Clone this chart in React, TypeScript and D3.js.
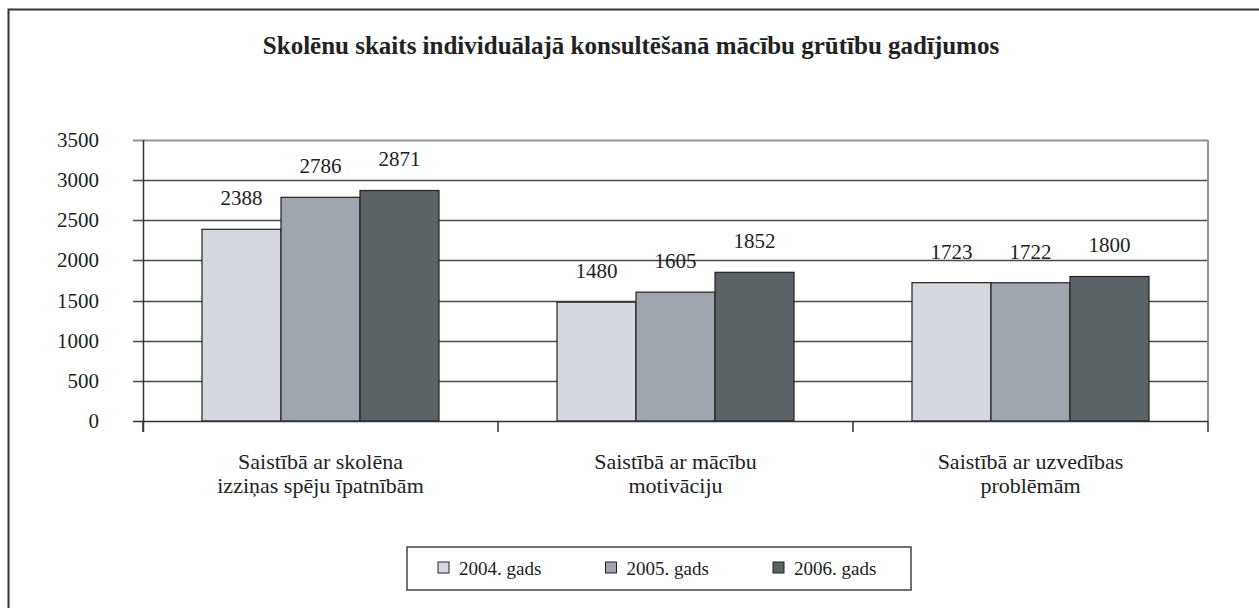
import { useEffect, useRef } from "react";
import * as d3 from "d3";

const title = "Skolēnu skaits individuālajā konsultēšanā mācību grūtību gadījumos";
const categories = [
  ["Saistībā ar skolēna", "izziņas spēju īpatnībām"],
  ["Saistībā ar mācību", "motivāciju"],
  ["Saistībā ar uzvedības", "problēmām"],
];
const seriesNames = ["2004. gads", "2005. gads", "2006. gads"];
const values2004 = [2388, 1480, 1723];
const values2005 = [2786, 1605, 1722];
const values2006 = [2871, 1852, 1800];
const yTicks = [0, 500, 1000, 1500, 2000, 2500, 3000, 3500];
const colors = ["#d5d8df", "#a0a6ad", "#5c6366"];

export default function App() {
  const svgRef = useRef<SVGSVGElement | null>(null);

  useEffect(() => {
    const W = 1259, H = 608;
    const svg = d3.select(svgRef.current);
    svg.selectAll("*").remove();
    svg.attr("width", W).attr("height", H);

    const font = "'Liberation Serif', 'Times New Roman', serif";
    const margin = { top: 140, left: 143, right: 51, bottom: 187 };
    const width = W - margin.left - margin.right;
    const height = H - margin.top - margin.bottom;

    // outer frame (left and top edges are visible)
    svg.append("path")
      .attr("d", `M8.5,${H + 2} V9.5 H${W + 2}`)
      .attr("fill", "none").attr("stroke", "#333").attr("stroke-width", 2);

    svg.append("text")
      .attr("x", 631).attr("y", 54)
      .attr("text-anchor", "middle")
      .attr("font-family", font).attr("font-weight", "bold").attr("font-size", 25)
      .attr("fill", "#222")
      .text(title);

    const g = svg.append("g").attr("transform", `translate(${margin.left},${margin.top})`);

    const idx = categories.map((_, i) => i);
    const x0 = d3.scaleBand<number>().domain(idx).range([0, width]).paddingInner(0).paddingOuter(0);
    const x1 = d3.scaleBand<number>().domain([0, 1, 2]).range([59, x0.bandwidth() - 59]);
    const y = d3.scaleLinear().domain([0, 3500]).range([height, 0]);

    // gridlines
    g.selectAll("line.grid")
      .data(yTicks.filter(t => t > 0))
      .join("line")
      .attr("x1", -10).attr("x2", width)
      .attr("y1", d => Math.round(y(d)) + 0.5).attr("y2", d => Math.round(y(d)) + 0.5)
      .attr("stroke", d => (d === 3500 ? "#8c939a" : "#4a4a4a")).attr("stroke-width", d => (d === 3500 ? 2 : 1.3));

    // right border
    g.append("line")
      .attr("x1", width).attr("x2", width).attr("y1", 0).attr("y2", height)
      .attr("stroke", "#8c939a").attr("stroke-width", 2);

    const seriesVals = [values2004, values2005, values2006];

    idx.forEach(ci => {
      const grp = g.append("g").attr("transform", `translate(${x0(ci)},0)`);
      seriesVals.forEach((vals, si) => {
        const v = vals[ci];
        grp.append("rect")
          .attr("x", x1(si)!).attr("y", y(v))
          .attr("width", x1.bandwidth()).attr("height", height - y(v))
          .attr("fill", colors[si]).attr("stroke", "#222").attr("stroke-width", 1.2);
        grp.append("text")
          .attr("x", x1(si)! + x1.bandwidth() / 2).attr("y", y(v) - 24)
          .attr("text-anchor", "middle")
          .attr("font-family", font).attr("font-size", 21).attr("fill", "#222")
          .text(v);
      });
    });

    // x axis
    g.append("line").attr("x1", -10).attr("x2", width).attr("y1", height + 0.5).attr("y2", height + 0.5)
      .attr("stroke", "#333").attr("stroke-width", 1.5);
    g.selectAll("line.xtick")
      .data([0, 1, 2, 3])
      .join("line")
      .attr("x1", d => d * x0.bandwidth()).attr("x2", d => d * x0.bandwidth())
      .attr("y1", height).attr("y2", height + 11)
      .attr("stroke", "#333").attr("stroke-width", 1.5);
    // y axis
    g.append("line").attr("x1", 0.5).attr("x2", 0.5).attr("y1", 0).attr("y2", height + 11)
      .attr("stroke", "#333").attr("stroke-width", 1.5);

    g.selectAll("text.ytick")
      .data(yTicks)
      .join("text")
      .attr("x", -44).attr("y", d => y(d) + 7)
      .attr("text-anchor", "end")
      .attr("font-family", font).attr("font-size", 21).attr("fill", "#222")
      .text(d => d);

    categories.forEach((lines, ci) => {
      const t = g.append("text")
        .attr("text-anchor", "middle")
        .attr("font-family", font).attr("font-size", 22).attr("fill", "#222");
      lines.forEach((ln, li) => {
        t.append("tspan")
          .attr("x", x0(ci)! + x0.bandwidth() / 2)
          .attr("y", height + 48 + li * 24)
          .text(ln);
      });
    });

    // legend
    const lg = svg.append("g");
    lg.append("rect").attr("x", 407).attr("y", 547).attr("width", 504).attr("height", 43)
      .attr("fill", "white").attr("stroke", "#444").attr("stroke-width", 1.5);
    seriesNames.forEach((name, si) => {
      const lx = 438 + si * 167.5;
      lg.append("rect").attr("x", lx).attr("y", 562).attr("width", 11).attr("height", 11)
        .attr("fill", colors[si]).attr("stroke", "#222").attr("stroke-width", 1);
      lg.append("text").attr("x", lx + 21).attr("y", 575)
        .attr("font-family", font).attr("font-size", 19).attr("fill", "#222")
        .text(name);
    });
  }, []);

  return <svg ref={svgRef} style={{ position: "absolute", left: 0, top: 0 }}></svg>;
}
